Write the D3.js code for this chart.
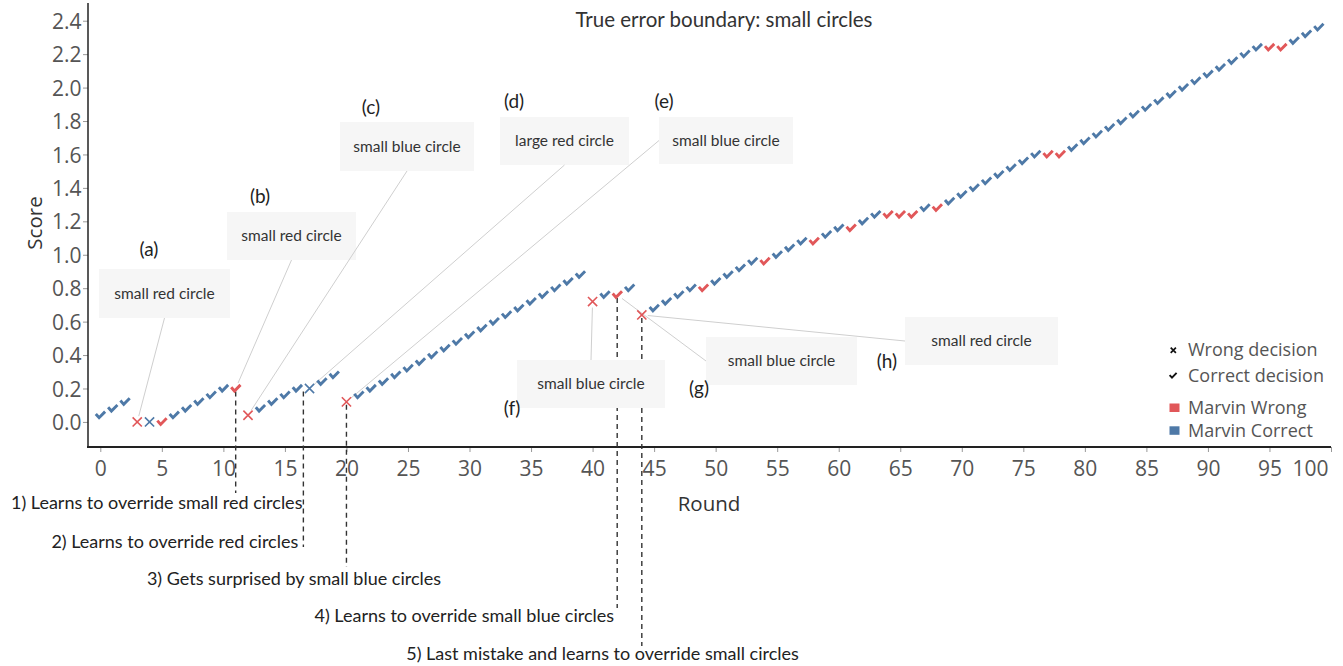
<!DOCTYPE html>
<html><head><meta charset="utf-8">
<script src="https://cdn.jsdelivr.net/npm/d3@7"></script>
<style>html,body{margin:0;padding:0;background:#fff;} svg{display:block;}</style>
</head><body>
<svg id="chart" width="1343" height="666"></svg>
<script>
// ---------------- DATA ----------------
const rounds = [0,1,2,3,4,5,6,7,8,9,10,11,12,13,14,15,16,17,18,19,20,21,22,23,24,25,26,27,28,29,30,31,32,33,34,35,36,37,38,39,40,41,42,43,44,45,46,47,48,49,50,51,52,53,54,55,56,57,58,59,60,61,62,63,64,65,66,67,68,69,70,71,72,73,74,75,76,77,78,79,80,81,82,83,84,85,86,87,88,89,90,91,92,93,94,95,96,97,98,99];
const scores = [0.04,0.08,0.12,0.00,0.00,0.00,0.04,0.08,0.12,0.16,0.20,0.20,0.04,0.08,0.12,0.16,0.20,0.20,0.24,0.28,
  0.12,0.16,0.20,0.24,0.28,0.32,0.36,0.40,0.44,0.48,0.52,0.56,0.60,0.64,0.68,0.72,0.76,0.80,0.84,0.88,
  0.72,0.76,0.76,0.80,0.64,0.68,0.72,0.76,0.80,0.80,0.84,0.88,0.92,0.96,0.96,1.00,1.04,1.08,1.08,1.12,
  1.16,1.16,1.20,1.24,1.24,1.24,1.24,1.28,1.28,1.32,1.36,1.40,1.44,1.48,1.52,1.56,1.60,1.60,1.60,1.64,
  1.68,1.72,1.76,1.80,1.84,1.88,1.92,1.96,2.00,2.04,2.08,2.12,2.16,2.20,2.24,2.24,2.24,2.28,2.32,2.36];
const wrongDecisionRounds = [3,4,12,17,20,40,44];
const marvinWrongRounds = [3,5,11,12,20,40,42,44,49,54,58,61,64,65,66,68,77,78,95,96];

const xTicks = [0,5,10,15,20,25,30,35,40,45,50,55,60,65,70,75,80,85,90,95,100];
const yTicks = [0,0.2,0.4,0.6,0.8,1.0,1.2,1.4,1.6,1.8,2.0,2.2,2.4];

const legendShapes = ["Wrong decision","Correct decision"];
const legendColors = ["Marvin Wrong","Marvin Correct"];

const titleText = "True error boundary: small circles";
const xTitle = "Round", yTitle = "Score";

// annotation callouts: letter, text, target round
const calloutLetters = ["(a)","(b)","(c)","(d)","(e)","(f)","(g)","(h)"];
const calloutTexts = ["small red circle","small red circle","small blue circle","large red circle","small blue circle","small blue circle","small blue circle","small red circle"];
const calloutRounds = [3,11,12,17,20,40,42,44];

// milestone reference lines
const milestoneTexts = ["1) Learns to override small red circles","2) Learns to override red circles","3) Gets surprised by small blue circles","4) Learns to override small blue circles","5) Last mistake and learns to override small circles"];
const milestoneRounds = [11,16.5,20,42,44];
const milestoneScores = [0.20,0.20,0.12,0.76,0.64];

// ---------------- LAYOUT ----------------
const W = 1343, H = 666;
const plot = {left:88, right:1331, top:4, bottom:447};
const COLORS = {wrong:"#e15759", correct:"#4e79a7"};
const fontT = "'Open Sans', sans-serif";
const fontA = "Lato, 'Open Sans', sans-serif";

// callout box layout (pixels): box x,y,w,h ; letter pos ; anchor side
const calloutLayout = [
  {bx:99,  by:269, bw:131, bh:49, lx:149, ly:256, anchor:"bottom"},
  {bx:227, by:212, bw:129, bh:48, lx:260, ly:203, anchor:"bottom"},
  {bx:340, by:122, bw:134, bh:49, lx:371, ly:114, anchor:"bottom"},
  {bx:500, by:117, bw:129, bh:48, lx:514, ly:108, anchor:"bottom"},
  {bx:659, by:117, bw:134, bh:47, lx:664, ly:108, anchor:"left"},
  {bx:517, by:360, bw:148, bh:48, lx:512, ly:415, anchor:"top"},
  {bx:706, by:337, bw:151, bh:48, lx:699, ly:395, anchor:"left"},
  {bx:905, by:317, bw:153, bh:48, lx:887, ly:368, anchor:"left"}
];
const milestoneLayout = [
  {cx:156.7, y:509, bottom:493},
  {cx:174.8, y:547.5, bottom:547},
  {cx:294,   y:585, bottom:567},
  {cx:464.3, y:622, bottom:608},
  {cx:602.5, y:659.5, bottom:646}
];

const svg = d3.select("#chart");
const x = d3.scaleLinear().domain([-1,100]).range([plot.left, plot.right]);
const y = d3.scaleLinear().domain([-0.15,2.5]).range([plot.bottom, plot.top]);

const data = rounds.map((r,i)=>({
  round:r, score:scores[i],
  wrong: wrongDecisionRounds.includes(r),
  marvinWrong: marvinWrongRounds.includes(r)
}));

// ---- axes ----
const gx = svg.append("g").attr("transform",`translate(0,${plot.bottom})`)
  .call(d3.axisBottom(x).tickValues(xTicks).tickSize(5).tickFormat(d3.format("d")));
gx.select(".domain").remove();
gx.selectAll(".tick line").attr("stroke","#999");
gx.selectAll(".tick text").attr("y",28.5).attr("dy",null)
  .attr("font-family",fontT).attr("font-size",21).attr("fill","#555");
gx.selectAll(".tick text").filter(d=>d===100).attr("text-anchor","end").attr("dx",-3);

const gy = svg.append("g").attr("transform",`translate(${plot.left},0)`)
  .call(d3.axisLeft(y).tickValues(yTicks).tickSize(5).tickFormat(d3.format(".1f")));
gy.select(".domain").remove();
gy.selectAll(".tick line").attr("stroke","#999");
gy.selectAll(".tick text").attr("x",-6.5).attr("dy","0.36em")
  .attr("font-family",fontT).attr("font-size",21).attr("fill","#555");

svg.append("line").attr("x1",plot.left).attr("x2",plot.left).attr("y1",plot.top-1).attr("y2",plot.bottom)
  .attr("stroke","#222").attr("stroke-width",1.5);
svg.append("line").attr("x1",plot.left-1).attr("x2",plot.right).attr("y1",plot.bottom).attr("y2",plot.bottom)
  .attr("stroke","#222").attr("stroke-width",2.2);

svg.append("text").attr("transform",`translate(41.5,223) rotate(-90)`).attr("text-anchor","middle")
  .attr("font-family",fontT).attr("font-size",20.5).attr("fill","#333").text(yTitle);
svg.append("text").attr("x",709).attr("y",511).attr("text-anchor","middle")
  .attr("font-family",fontT).attr("font-size",20.5).attr("fill","#333").text(xTitle);

// title
svg.append("text").attr("x",724).attr("y",27).attr("text-anchor","middle")
  .attr("font-family",fontA).attr("font-size",20.5).attr("fill","#333").text(titleText);

// ---- milestone dashed lines ----
const gm = svg.append("g");
milestoneRounds.forEach((r,i)=>{
  const L = milestoneLayout[i];
  gm.append("line").attr("x1",x(r)).attr("x2",x(r))
    .attr("y1",y(milestoneScores[i])+3).attr("y2",L.bottom)
    .attr("stroke","#333").attr("stroke-width",1.4).attr("stroke-dasharray","5,4");
  gm.append("text").attr("x",L.cx).attr("y",L.y).attr("text-anchor","middle")
    .attr("font-family",fontA).attr("font-size",18).attr("fill","#222").text(milestoneTexts[i]);
});

// ---- callouts ----
const gc = svg.append("g");
calloutRounds.forEach((r,i)=>{
  const L = calloutLayout[i];
  gc.append("rect").attr("x",L.bx).attr("y",L.by).attr("width",L.bw).attr("height",L.bh).attr("fill","#f6f6f6");
  let ax, ay;
  if (L.anchor==="bottom"){ax=L.bx+L.bw/2; ay=L.by+L.bh;}
  else if (L.anchor==="top"){ax=L.bx+L.bw/2; ay=L.by;}
  else {ax=L.bx; ay=L.by+L.bh/2;}
  const px = x(r), py = y(scores[rounds.indexOf(r)]);
  const dx = px-ax, dy = py-ay, len = Math.hypot(dx,dy);
  const shrink = 6;
  gc.append("line").attr("x1",ax).attr("y1",ay)
    .attr("x2",ax+dx*(len-shrink)/len).attr("y2",ay+dy*(len-shrink)/len)
    .attr("stroke","#cfcfcf").attr("stroke-width",1);
  gc.append("text").attr("x",L.bx+L.bw/2).attr("y",L.by+L.bh/2+5).attr("text-anchor","middle")
    .attr("font-family",fontA).attr("font-size",15.5).attr("fill","#333").text(calloutTexts[i]);
  gc.append("text").attr("x",L.lx).attr("y",L.ly).attr("text-anchor","middle")
    .attr("font-family",fontA).attr("font-size",19).attr("fill","#222").text(calloutLetters[i]);
});

// ---- marks ----
const checkPath = "M-4.5,-1.3 L-1.2,2.5 L4.8,-3.6";
const crossPath = "M-4.6,-4.6 L4.6,4.6 M-4.6,4.6 L4.6,-4.6";
svg.append("g").selectAll("path.mark").data(data).join("path")
  .attr("class","mark")
  .attr("transform",d=>`translate(${x(d.round)},${y(d.score)})`)
  .attr("d",d=>d.wrong?crossPath:checkPath)
  .attr("fill","none")
  .attr("stroke",d=>d.marvinWrong?COLORS.wrong:COLORS.correct)
  .attr("stroke-width",d=>d.wrong?1.6:2.9)
  .attr("stroke-linejoin","miter");

// ---- legend ----
const lg = svg.append("g");
const lgY = [350,375.5,407.5,431];
lg.append("path").attr("transform",`translate(1173.3,350.2)`).attr("d","M-2.6,-2.6 L2.6,2.6 M-2.6,2.6 L2.6,-2.6")
  .attr("stroke","#111").attr("stroke-width",1.7).attr("fill","none");
lg.append("path").attr("transform",`translate(1173,375.5)`).attr("d","M-3.4,-0.4 L-1,2.2 L3.6,-2.6")
  .attr("stroke","#111").attr("stroke-width",1.9).attr("fill","none");
lg.append("rect").attr("x",1169.5).attr("y",403.5).attr("width",10).attr("height",8.5).attr("fill",COLORS.wrong);
lg.append("rect").attr("x",1169.5).attr("y",426.3).attr("width",10).attr("height",8.5).attr("fill",COLORS.correct);
[...legendShapes,...legendColors].forEach((t,i)=>{
  lg.append("text").attr("x",1188).attr("y",lgY[i]).attr("dy","0.35em")
    .attr("font-family",fontT).attr("font-size",18).attr("fill","#555").text(t);
});
</script>
</body></html>
